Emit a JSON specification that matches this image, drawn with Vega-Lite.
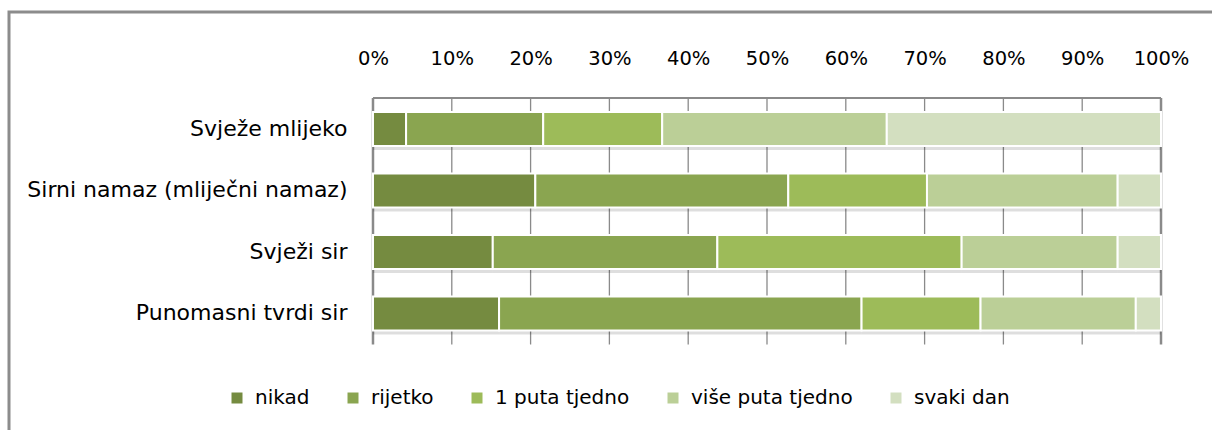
{
  "$schema": "https://vega.github.io/schema/vega-lite/v6.json",
  "width": 1213,
  "height": 430,
  "autosize": {"type": "none"},
  "padding": {"left": 9, "top": 12, "right": 0, "bottom": 0},
  "background": "#ffffff",
  "config": {
    "view": {"stroke": "#8c8c8c", "strokeWidth": 3},
    "font": "DejaVu Sans",
    "axis": {"domain": false, "ticks": false, "grid": false, "labelColor": "#000000", "labelFont": "DejaVu Sans"},
    "legend": {"labelFont": "DejaVu Sans"}
  },
  "data": {
    "values": [
      {"item": "Svježe mlijeko", "freq": "nikad", "k": 1, "pct": 4.2},
      {"item": "Svježe mlijeko", "freq": "rijetko", "k": 2, "pct": 17.4},
      {"item": "Svježe mlijeko", "freq": "1 puta tjedno", "k": 3, "pct": 15.1},
      {"item": "Svježe mlijeko", "freq": "više puta tjedno", "k": 4, "pct": 28.5},
      {"item": "Svježe mlijeko", "freq": "svaki dan", "k": 5, "pct": 34.8},
      {"item": "Sirni namaz (mliječni namaz)", "freq": "nikad", "k": 1, "pct": 20.6},
      {"item": "Sirni namaz (mliječni namaz)", "freq": "rijetko", "k": 2, "pct": 32.1},
      {"item": "Sirni namaz (mliječni namaz)", "freq": "1 puta tjedno", "k": 3, "pct": 17.6},
      {"item": "Sirni namaz (mliječni namaz)", "freq": "više puta tjedno", "k": 4, "pct": 24.2},
      {"item": "Sirni namaz (mliječni namaz)", "freq": "svaki dan", "k": 5, "pct": 5.5},
      {"item": "Svježi sir", "freq": "nikad", "k": 1, "pct": 15.2},
      {"item": "Svježi sir", "freq": "rijetko", "k": 2, "pct": 28.5},
      {"item": "Svježi sir", "freq": "1 puta tjedno", "k": 3, "pct": 31.0},
      {"item": "Svježi sir", "freq": "više puta tjedno", "k": 4, "pct": 19.8},
      {"item": "Svježi sir", "freq": "svaki dan", "k": 5, "pct": 5.5},
      {"item": "Punomasni tvrdi sir", "freq": "nikad", "k": 1, "pct": 16.0},
      {"item": "Punomasni tvrdi sir", "freq": "rijetko", "k": 2, "pct": 46.0},
      {"item": "Punomasni tvrdi sir", "freq": "1 puta tjedno", "k": 3, "pct": 15.1},
      {"item": "Punomasni tvrdi sir", "freq": "više puta tjedno", "k": 4, "pct": 19.7},
      {"item": "Punomasni tvrdi sir", "freq": "svaki dan", "k": 5, "pct": 3.2}
    ]
  },
  "layer": [
    {
      "data": {"values": [{"t": 0}, {"t": 10}, {"t": 20}, {"t": 30}, {"t": 40}, {"t": 50}, {"t": 60}, {"t": 70}, {"t": 80}, {"t": 90}, {"t": 100}]},
      "mark": {"type": "rule", "color": "#8a8a8a", "yOffset": -31, "y2Offset": 31},
      "encoding": {
        "x": {"field": "t", "type": "quantitative", "title": null},
        "y": {"datum": "Svježe mlijeko", "type": "nominal", "bandPosition": 0.5},
        "y2": {"datum": "Punomasni tvrdi sir", "bandPosition": 0.5},
        "strokeWidth": {"condition": {"test": "datum.t === 0 || datum.t === 100", "value": 2.5}, "value": 1.3}
      }
    },
    {
      "data": {"values": [{}]},
      "mark": {"type": "rule", "color": "#8a8a8a", "strokeWidth": 2, "yOffset": -31},
      "encoding": {
        "x": {"datum": 0, "type": "quantitative"},
        "x2": {"datum": 100},
        "y": {"datum": "Svježe mlijeko", "type": "nominal", "bandPosition": 0.5}
      }
    },
    {
      "mark": {"type": "bar", "color": "#000000", "opacity": 0.13, "yOffset": 4},
      "encoding": {
        "x": {"field": "pct", "type": "quantitative", "stack": "zero", "title": null},
        "y": {"field": "item", "type": "nominal", "title": null},
        "detail": {"field": "freq"},
        "order": {"field": "k", "type": "quantitative"}
      }
    },
    {
      "mark": {"type": "bar", "stroke": "#ffffff", "strokeWidth": 2},
      "encoding": {
        "x": {
          "field": "pct", "type": "quantitative", "stack": "zero", "title": null,
          "scale": {"domain": [-46.19, 107.74], "nice": false, "zero": false},
          "axis": {"orient": "top", "values": [0, 10, 20, 30, 40, 50, 60, 70, 80, 90, 100], "labelExpr": "datum.value + '%'", "labelFontSize": 19.5, "offset": -52, "labelPadding": 0, "tickSize": 0, "labelBaseline": "alphabetic", "labelFlush": false, "labelOverlap": false, "labelBound": false}
        },
        "y": {
          "field": "item", "type": "nominal", "title": null,
          "scale": {"domain": ["_top", "Svježe mlijeko", "Sirni namaz (mliječni namaz)", "Svježi sir", "Punomasni tvrdi sir", "_bottom"], "paddingInner": 0.4472, "paddingOuter": 0.7196, "align": 0.435},
          "axis": {"orient": "left", "values": ["Svježe mlijeko", "Sirni namaz (mliječni namaz)", "Svježi sir", "Punomasni tvrdi sir"], "offset": -338, "labelPadding": 0, "tickSize": 0, "labelFontSize": 22, "labelAlign": "right", "labelLimit": 0}
        },
        "color": {
          "field": "freq", "type": "nominal", "title": null,
          "scale": {"domain": ["nikad", "rijetko", "1 puta tjedno", "više puta tjedno", "svaki dan"], "range": ["#758b40", "#8aa550", "#9dbb59", "#bbcf97", "#d3dfc0"]},
          "legend": {"orient": "none", "legendX": 218, "legendY": 376, "direction": "horizontal", "columns": 5, "symbolType": "square", "symbolSize": 121, "symbolStrokeWidth": 0, "labelFontSize": 20, "labelColor": "#000000", "columnPadding": 33, "labelOffset": 8, "padding": 0, "labelLimit": 0}
        },
        "order": {"field": "k", "type": "quantitative"}
      }
    }
  ]
}
